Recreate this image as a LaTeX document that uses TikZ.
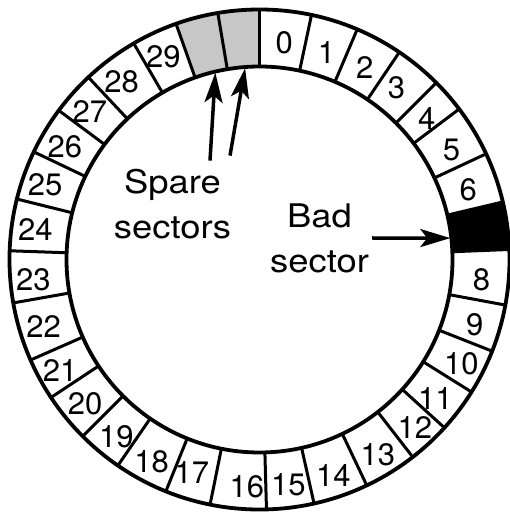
\documentclass[tikz,border=0pt]{standalone}
\usepackage{fontspec}
\setmainfont{TeX Gyre Heros}
\newfontfamily\calloutfont{TeX Gyre Heros}[FakeStretch=1.12]
\usetikzlibrary{arrows.meta}

\tikzset{
  ring/.style={line width=3.8pt},
  spoke/.style={line width=3pt},
  secnum/.style={font=\fontsize{31}{37}\selectfont, inner sep=0pt},
  callout/.style={align=center, inner sep=3pt, font=\calloutfont\fontsize{32.5}{45}\selectfont},
  pointer/.style={-{Stealth[length=30pt,width=18pt,inset=7pt]}, line width=3.5pt}
}

\begin{document}
\begin{tikzpicture}[x=1pt,y=1pt]
\useasboundingbox (-259.5,-253.5) rectangle (250.5,259.5);

% spare and bad sectors
\fill[black!22] (90:193) arc[start angle=90, end angle=109.5, radius=193]
  -- (109.5:250) arc[start angle=109.5, end angle=90, radius=250] -- cycle;
\fill[black] (2.3:193) arc[start angle=2.3, end angle=13.3, radius=193]
  -- (13.3:250) arc[start angle=13.3, end angle=2.3, radius=250] -- cycle;

% track
\draw[ring] (0,0) circle[radius=250];
\draw[ring] (0,0) circle[radius=193];

% sector boundaries
\foreach \t in {90,78,67,56,45,37,25,13.3,2.3,-10.5,-21.5,-32,-42.3,-52.2,
  -64.6,-77.4,-88.4,-101.4,-112,-124.5,-135,-146.5,-156.3,-170,178,166,
  154.5,143.4,133.2,120.2,109.5,99.6}
  \draw[spoke] (\t:193) -- (\t:250);

% sector numbers
\foreach \n/\t/\r in {0/83.5/218, 1/72.1/218, 2/61.3/219, 3/51.5/220,
  4/40.2/219, 5/29.7/221, 6/18.4/220, 8/-5.3/223, 9/-16.9/225,
  10/-27.2/227, 11/-38.3/224, 12/-47.3/229, 13/-58.7/228, 14/-71.1/228,
  15/-82.7/227, 16/-93.2/228, 17/-107.6/224, 18/-118.1/229,
  19/-128.9/228, 20/-140.5/226, 21/-151/228, 22/-162.7/226,
  23/-174.8/227, 24/172.5/226, 25/160.8/227, 26/149.9/225,
  27/138.9/225, 28/127.8/225, 29/115.4/224}
  \node[secnum] (sec\n) at (\t:\r) {\n};

\node[callout] (spare) at (-87,55.8) {Spare\\sectors};
\node[callout] (bad) at (60,21.5) {Bad\\sector};

\coordinate (spareA) at (103.3:192);
\coordinate (spareB) at (94.3:192);
\coordinate (badtip) at (6.4:192);

\draw[pointer] ([xshift=37.5pt,yshift=5pt]spare.north) -- (spareA);
\draw[pointer] ([xshift=57.5pt,yshift=10pt]spare.north) -- (spareB);
\draw[pointer] (bad.east) -- (badtip);

\end{tikzpicture}
\end{document}
